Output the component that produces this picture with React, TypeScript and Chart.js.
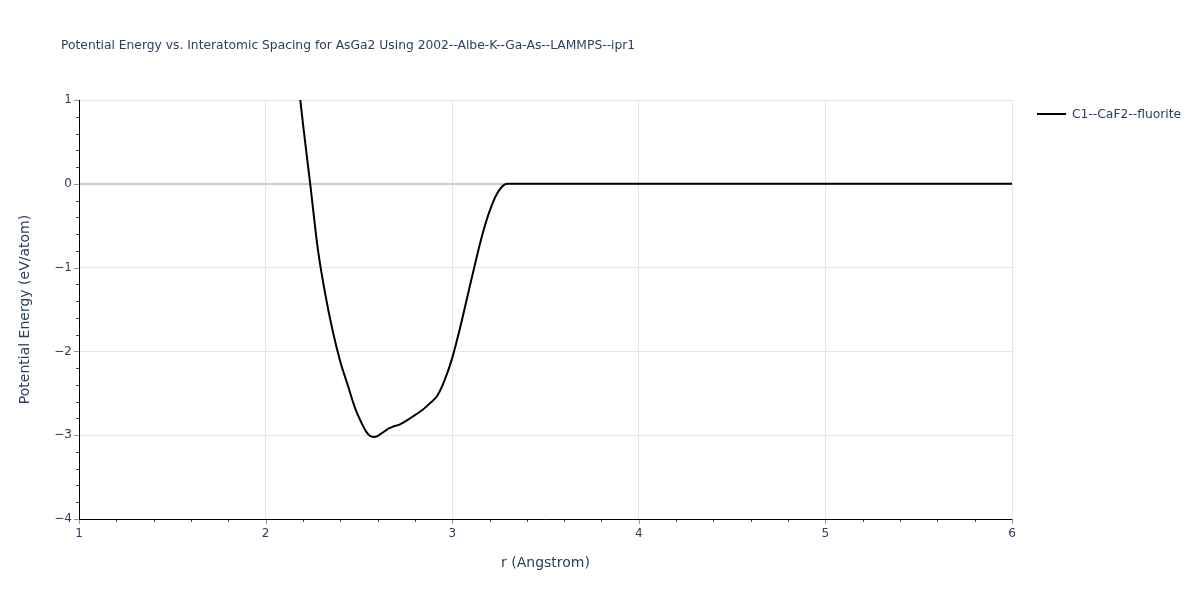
import React, { useEffect, useRef } from "react";
import { Chart, registerables } from "chart.js";

Chart.register(...registerables);

const TITLE = "Potential Energy vs. Interatomic Spacing for AsGa2 Using 2002--Albe-K--Ga-As--LAMMPS--ipr1";
const X_TITLE = "r (Angstrom)";
const Y_TITLE = "Potential Energy (eV/atom)";
const SERIES_NAME = "C1--CaF2--fluorite";

const rValues = [
  2.18, 2.2, 2.24, 2.28, 2.32, 2.36, 2.4, 2.44, 2.48, 2.52, 2.54, 2.56, 2.58, 2.6, 2.62, 2.64, 2.66, 2.68,
  2.72, 2.76, 2.8, 2.84, 2.88, 2.92, 2.96, 3.0, 3.04, 3.08, 3.12, 3.16, 3.2, 3.24, 3.28,
  3.3, 3.4, 3.6, 3.8, 4.0, 4.5, 5.0, 5.5, 6.0,
];
const energyValues = [
  1.12, 0.72, -0.02, -0.78, -1.32, -1.76, -2.12, -2.4, -2.68, -2.88, -2.96, -3.01, -3.02, -3.01, -2.98, -2.95, -2.92, -2.9,
  -2.87, -2.82, -2.76, -2.7, -2.62, -2.53, -2.34, -2.08, -1.74, -1.36, -0.98, -0.62, -0.33, -0.12, -0.01,
  0, 0, 0, 0, 0, 0, 0, 0, 0,
];

const X_MIN = 1, X_MAX = 6, Y_MIN = -4, Y_MAX = 1;
const FONT = '"DejaVu Sans", verdana, arial, sans-serif';
const TEXT_COLOR = "#2a3f5f";

const fmt = (v: number) => (v < 0 ? "\u2212" + Math.abs(v) : String(v));

const decorPlugin = {
  id: "decor",
  afterDraw(chart: any) {
    const ctx = chart.ctx;
    const { left, right, top, bottom } = chart.chartArea;
    const xs = chart.scales.x, ys = chart.scales.y;
    ctx.save();
    ctx.strokeStyle = "#444";
    ctx.lineWidth = 1;
    for (let i = 0; i <= (X_MAX - X_MIN) * 5; i++) {
      const v = X_MIN + i * 0.2;
      if (Math.abs(v - Math.round(v)) < 1e-6) continue;
      const px = Math.round(xs.getPixelForValue(v)) + 0.5;
      ctx.beginPath(); ctx.moveTo(px, bottom); ctx.lineTo(px, bottom + 3); ctx.stroke();
    }
    for (let i = 0; i <= (Y_MAX - Y_MIN) * 5; i++) {
      const v = Y_MIN + i * 0.2;
      if (Math.abs(v - Math.round(v)) < 1e-6) continue;
      const py = Math.round(ys.getPixelForValue(v)) + 0.5;
      ctx.beginPath(); ctx.moveTo(left - 3, py); ctx.lineTo(left, py); ctx.stroke();
    }
    ctx.strokeStyle = "#999";
    for (let v = X_MIN; v <= X_MAX; v++) {
      const px = Math.round(xs.getPixelForValue(v)) + 0.5;
      ctx.beginPath(); ctx.moveTo(px, bottom); ctx.lineTo(px, bottom + 5); ctx.stroke();
    }
    for (let v = Y_MIN; v <= Y_MAX; v++) {
      const py = Math.round(ys.getPixelForValue(v)) + 0.5;
      ctx.beginPath(); ctx.moveTo(left - 5, py); ctx.lineTo(left, py); ctx.stroke();
    }
    ctx.strokeStyle = "#000";
    ctx.beginPath();
    ctx.moveTo(Math.round(left) + 0.5, top);
    ctx.lineTo(Math.round(left) + 0.5, bottom + 0.5);
    ctx.lineTo(right, bottom + 0.5);
    ctx.stroke();
    ctx.fillStyle = TEXT_COLOR;
    ctx.font = `12.3px ${FONT}`;
    ctx.textAlign = "left";
    ctx.textBaseline = "middle";
    ctx.fillText(TITLE, 61, 46);
    ctx.font = `14px ${FONT}`;
    ctx.textAlign = "center";
    ctx.fillText(X_TITLE, (left + right) / 2, 563);
    ctx.save();
    ctx.translate(25, (top + bottom) / 2);
    ctx.rotate(-Math.PI / 2);
    ctx.fillText(Y_TITLE, 0, 0);
    ctx.restore();
    ctx.strokeStyle = "#000";
    ctx.lineWidth = 2;
    ctx.beginPath(); ctx.moveTo(1037, 114); ctx.lineTo(1066, 114); ctx.stroke();
    ctx.font = `12.3px ${FONT}`;
    ctx.textAlign = "left";
    ctx.fillText(SERIES_NAME, 1072, 115);
    ctx.restore();
  },
};

export default function App() {
  const ref = useRef<HTMLCanvasElement>(null);
  useEffect(() => {
    document.body.style.margin = "0";
    const chart = new Chart(ref.current!, {
      type: "line",
      data: {
        datasets: [
          {
            label: SERIES_NAME,
            data: rValues.map((r, i) => ({ x: r, y: energyValues[i] })),
            borderColor: "#000",
            borderWidth: 2,
            pointRadius: 0,
            cubicInterpolationMode: "monotone",
            fill: false,
          },
        ],
      },
      options: {
        animation: false,
        responsive: false,
        layout: { padding: { left: 0, top: 100, right: 188, bottom: 0 } },
        plugins: { legend: { display: false }, title: { display: false }, tooltip: { enabled: false } },
        scales: {
          x: {
            type: "linear",
            min: X_MIN,
            max: X_MAX,
            border: { display: false },
            grid: { color: "#e5e5e5", drawTicks: false, lineWidth: 1 },
            ticks: { stepSize: 1, padding: 8, color: TEXT_COLOR, font: { family: FONT, size: 12 }, callback: (v: any) => fmt(Number(v)) },
            afterFit: (s: any) => { s.height = 81; },
          },
          y: {
            type: "linear",
            min: Y_MIN,
            max: Y_MAX,
            border: { display: false },
            grid: {
              color: (c: any) => (c.tick && c.tick.value === 0 ? "#cccccc" : "#e5e5e5"),
              lineWidth: (c: any) => (c.tick && c.tick.value === 0 ? 2 : 1),
              drawTicks: false,
            },
            ticks: { stepSize: 1, padding: 7, color: TEXT_COLOR, font: { family: FONT, size: 12 }, callback: (v: any) => fmt(Number(v)) },
            afterFit: (s: any) => { s.width = 79; },
          },
        },
      },
      plugins: [decorPlugin],
    } as any);
    return () => chart.destroy();
  }, []);
  return <canvas ref={ref} width={1200} height={600} style={{ display: "block" }} />;
}
